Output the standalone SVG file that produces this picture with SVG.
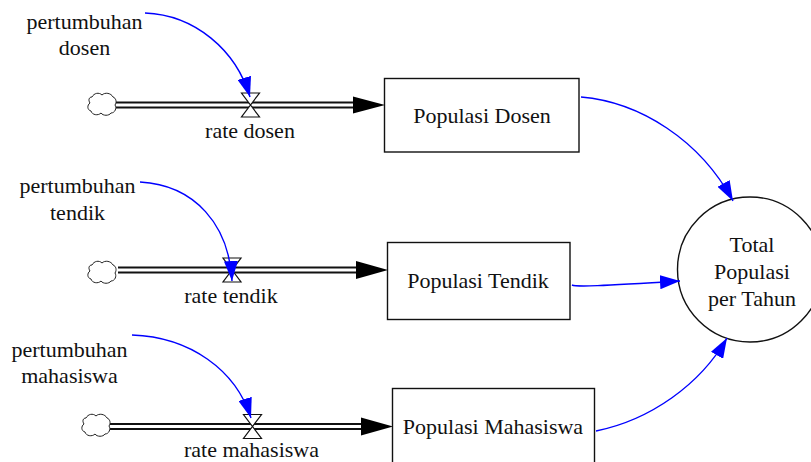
<svg xmlns="http://www.w3.org/2000/svg" width="811" height="462" viewBox="0 0 811 462">
  <style>
    text { font-family: "Liberation Serif", "Times New Roman", serif; font-size: 22px; fill: #111; text-anchor: middle; }
    .stock { fill: #fff; stroke: #111; stroke-width: 1.4; }
    .aux { fill: #fff; stroke: #111; stroke-width: 1.4; }
    .pipe-out { fill: none; stroke: #111; stroke-width: 7; }
    .pipe-in { fill: none; stroke: #fff; stroke-width: 3; }
    .flowhead { fill: #000; }
    .valve { fill: #fff; stroke: #111; stroke-width: 1.2; stroke-linejoin: miter; }
    .cloud { fill: #fff; stroke: #222; stroke-width: 1; }
    .link { fill: none; stroke: #0000ff; stroke-width: 1.4; marker-end: url(#blueHead); }
  </style>
  <defs>
    <marker id="blueHead" viewBox="0 0 20 14" refX="20" refY="7" markerWidth="20" markerHeight="14" markerUnits="userSpaceOnUse" orient="auto">
      <path d="M0,0 L20,7 L0,14 Z" fill="#0000ff"/>
    </marker>
    <path id="cloudShape" class="cloud" d="M-10,-7 C-8,-11 -3,-12 0,-9 C3,-12 9,-11 11,-7 C14,-6 15,-2 13,1 C15,4 13,9 9,9 C7,12 1,12 -1,9 C-4,12 -10,11 -11,7 C-15,6 -15,1 -12,-1 C-14,-4 -13,-7 -10,-7 Z"/>
    <path id="valveShape" class="valve" d="M-9,-12 L9,-12 L0,0 Z M-9,12 L9,12 L0,0 Z"/>
  </defs>

  <!-- material flows: double pipe from source cloud into each stock -->
  <g id="flows">
    <path class="pipe-out" d="M116,105 L356,105"/>
    <path class="pipe-in" d="M116,105 L356,105"/>
    <path class="flowhead" d="M353,96.5 L385,105 L353,113.5 Z"/>

    <path class="pipe-out" d="M118,270 L359,270"/>
    <path class="pipe-in" d="M118,270 L359,270"/>
    <path class="flowhead" d="M356,261 L388,270 L356,279 Z"/>

    <path class="pipe-out" d="M110,426.5 L364,426.5"/>
    <path class="pipe-in" d="M110,426.5 L364,426.5"/>
    <path class="flowhead" d="M361,417.5 L393,426.5 L361,435.5 Z"/>
  </g>

  <g id="source-dosen"><use href="#cloudShape" x="102" y="104"/></g>
  <g id="source-tendik"><use href="#cloudShape" x="102" y="272"/></g>
  <g id="source-mahasiswa"><use href="#cloudShape" x="96" y="425"/></g>

  <g id="rate-dosen">
    <use href="#valveShape" x="250.5" y="105"/>
    <text x="250" y="138">rate dosen</text>
  </g>
  <g id="rate-tendik">
    <use href="#valveShape" x="232" y="270"/>
    <text x="231" y="303">rate tendik</text>
  </g>
  <g id="rate-mahasiswa">
    <use href="#valveShape" x="252.5" y="426.5"/>
    <text x="251.5" y="457">rate mahasiswa</text>
  </g>

  <g id="populasi-dosen">
    <rect class="stock" x="384.5" y="78.5" width="194.5" height="73.5"/>
    <text x="482" y="123">Populasi Dosen</text>
  </g>
  <g id="populasi-tendik">
    <rect class="stock" x="387.5" y="242.5" width="182.5" height="77"/>
    <text x="478" y="288">Populasi Tendik</text>
  </g>
  <g id="populasi-mahasiswa">
    <rect class="stock" x="392.5" y="388.5" width="202" height="80"/>
    <text x="493" y="434">Populasi Mahasiswa</text>
  </g>

  <g id="total-populasi">
    <circle class="aux" cx="750" cy="269.5" r="72.5"/>
    <text x="752" y="252">Total</text>
    <text x="752" y="279">Populasi</text>
    <text x="752" y="306">per Tahun</text>
  </g>

  <g id="pertumbuhan-dosen">
    <text x="84.5" y="29">pertumbuhan</text>
    <text x="84.5" y="55">dosen</text>
  </g>
  <g id="pertumbuhan-tendik">
    <text x="77.5" y="193">pertumbuhan</text>
    <text x="77.5" y="220">tendik</text>
  </g>
  <g id="pertumbuhan-mahasiswa">
    <text x="69.5" y="357">pertumbuhan</text>
    <text x="69.5" y="383">mahasiswa</text>
  </g>

  <!-- information links -->
  <g id="connectors">
    <path class="link" d="M145,13 C195,15 236,50 250,97"/>
    <path class="link" d="M140,182 C195,185 229,225 232,281"/>
    <path class="link" d="M132,335 C190,337 236,370 251,418"/>
    <path class="link" d="M581,97 C640,102 700,140 733,201"/>
    <path class="link" d="M572,285 C576,287 600,286 680,281"/>
    <path class="link" d="M596,431 C650,420 700,385 727,338"/>
  </g>
</svg>
